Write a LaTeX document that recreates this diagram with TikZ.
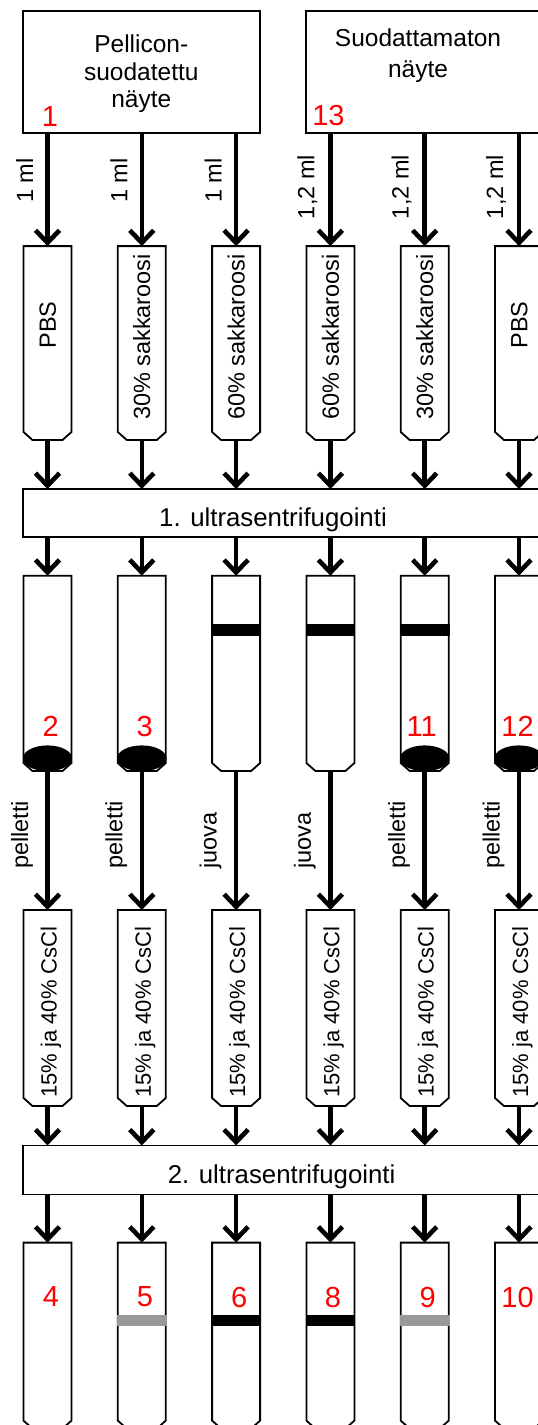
\documentclass[tikz,border=0pt]{standalone}
\usepackage{fontspec}
\setmainfont{Liberation Sans}
\usetikzlibrary{arrows.meta}

% one tube: name, centre x, top y, height; bottom corners cut off
\newcommand\drawtube[4]{%
  \node[inner sep=0pt, outer sep=0pt, minimum width=48pt, minimum height=#4pt,
        anchor=north] (#1) at (#2,#3) {};
  \draw[tubeline, fill=white] (#1.north west) -- ([yshift=8pt]#1.south west)
    -- ([xshift=9pt]#1.south west) -- ([xshift=-9pt]#1.south east)
    -- ([yshift=8pt]#1.south east) -- (#1.north east) -- cycle;
}

\begin{document}
\begin{tikzpicture}[x=1pt, y=-1pt,
  flow/.style={line width=4.6pt, -{Straight Barb[length=12.5pt, width=24pt]}},
  frame/.style={draw, line width=1.8pt, inner sep=0pt, outer sep=0pt, fill=white},
  tubeline/.style={line width=1.8pt, line join=miter},
  num/.style={text=red, font=\fontsize{29}{29}\selectfont, inner sep=0pt},
  vlab/.style={rotate=90, inner sep=0pt, font=\fontsize{23.5}{23.5}\selectfont},
  boxtext/.style={align=center, inner sep=0pt},
]
\useasboundingbox (0,0) rectangle (538,1425);
\clip (0,0) rectangle (538,1425);

% sample boxes and centrifugation bars
\node[frame, minimum width=236.5pt, minimum height=121.5pt, anchor=north west] (A) at (23.3,11.3) {};
\node[frame, minimum width=236.5pt, minimum height=121.5pt, anchor=north west] (B) at (306.2,11.3) {};
\node[frame, minimum width=520pt, minimum height=48pt, anchor=north west] (U1) at (23.3,489) {};
\node[frame, minimum width=520pt, minimum height=49pt, anchor=north west] (U2) at (23.3,1145.4) {};

\node[boxtext, font=\fontsize{24.5}{27.5}\selectfont] (Atext) at (141.3,74) {Pellicon-\\suodatettu\\näyte};
\node[boxtext, font=\fontsize{24.5}{31}\selectfont] (Btext) at (418,55.4) {Suodattamaton\\näyte};
\node[num] (n1) at (50,116.7) {1};
\node[num] (n13) at (328.5,115.5) {13};
\node[inner sep=0pt, anchor=base, font=\fontsize{25.8}{25.8}\selectfont] (U1text) at (273,526) {1. ultrasentrifugointi};
\node[inner sep=0pt, anchor=base, font=\fontsize{25.8}{25.8}\selectfont] (U2text) at (281.6,1183) {2. ultrasentrifugointi};

% tubes, row by row
\foreach \i/\x in {1/47.5,2/141.8,3/236.1,4/330.4,5/424.7,6/519.0}{
  \drawtube{s\i}{\x}{246.1}{193.9}
  \drawtube{p\i}{\x}{575.7}{195.3}
  \drawtube{c\i}{\x}{910}{196}
  \drawtube{f\i}{\x}{1242.6}{186}
}

% pellets at the bottom of the first centrifuge tubes
\foreach \i in {1,2,5,6}{
  \fill ([yshift=12.7pt]p\i.south) ellipse [x radius=24.6pt, y radius=12.9pt];
}
% virus bands
\foreach \x in {236.1,330.4,424.7}{
  \fill (\x-24.9,624) rectangle (\x+24.9,636);
}
\foreach \x/\c in {141.8/black!40,236.1/black,330.4/black,424.7/black!40}{
  \fill[\c] (\x-24.9,1315.3) rectangle (\x+24.9,1326.3);
}

% tube labels
\foreach \i/\x/\t/\y in {1/47.5/PBS/325, 2/141.8/30\% sakkaroosi/337, 3/236.1/60\% sakkaroosi/337,
                         4/330.4/60\% sakkaroosi/337, 5/424.7/30\% sakkaroosi/337, 6/519.0/PBS/325}{
  \node[vlab, anchor=base] (sl\i) at (\x+8.4,\y) {\t};
  \node[vlab, anchor=base, font=\fontsize{22}{22}\selectfont] (cl\i) at (\x+9,1012) {15\% ja 40\% CsCl};
}

% sample numbers
\node[num] (n2) at (50.8,726.7) {2};
\node[num] (n3) at (144.8,726.7) {3};
\node[num] (n11) at (421.6,726.7) {11};
\node[num] (n12) at (517.6,726.7) {12};
\node[num] (n4) at (51,1297) {4};
\node[num] (n5) at (145,1297) {5};
\node[num] (n6) at (239.3,1297) {6};
\node[num] (n8) at (332.9,1297) {8};
\node[num] (n9) at (427.6,1297) {9};
\node[num] (n10) at (517.6,1297) {10};

% connectors
\foreach \i in {1,2,3}{ \draw[flow] (A.south -| s\i.north) -- (s\i.north); }
\foreach \i in {4,5,6}{ \draw[flow] (B.south -| s\i.north) -- (s\i.north); }
\foreach \i in {1,...,6}{
  \draw[flow] (s\i.south) -- (s\i.south |- U1.north);
  \draw[flow] (U1.south -| p\i.north) -- (p\i.north);
  \draw[flow] (p\i.south) -- (c\i.north);
  \draw[flow] (c\i.south) -- (c\i.south |- U2.north);
  \draw[flow] (U2.south -| f\i.north) -- (f\i.north);
}

% volume and fraction labels
\foreach \i/\x in {1/47.5,2/141.8,3/236.1}{
  \node[vlab, anchor=base] (ml\i) at (\x-14.5,180.5) {1 ml};
}
\foreach \i/\x in {4/330.4,5/424.7,6/519.0}{
  \node[vlab, anchor=base] (ml\i) at (\x-16,187) {1,2 ml};
}
\foreach \i/\x/\t in {1/47.5/pelletti,2/141.8/pelletti,3/236.1/juova,4/330.4/juova,5/424.7/pelletti,6/519.0/pelletti}{
  \node[vlab, anchor=base west] (fr\i) at (\x-19.5,869) {\t};
}
\end{tikzpicture}
\end{document}
